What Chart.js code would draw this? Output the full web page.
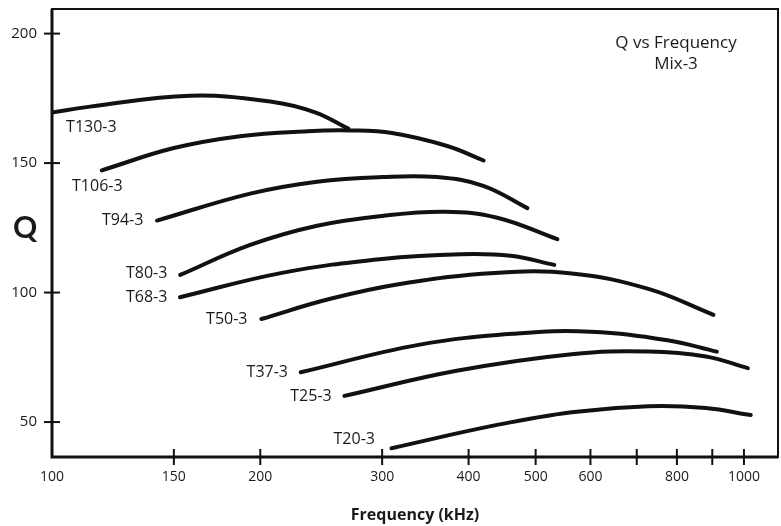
<!DOCTYPE html>
<html>
<head>
<meta charset="utf-8">
<script src="https://cdn.jsdelivr.net/npm/chart.js@4/dist/chart.umd.min.js"></script>
<style>
  html, body { margin: 0; padding: 0; background: #fff; }
  #wrap { width: 781px; height: 526px; }
</style>
</head>
<body>
<div id="wrap"><canvas id="c" width="781" height="526"></canvas></div>
<script>
// Q vs Frequency, Mix-3 toroid cores
const xTicks = [100, 150, 200, 300, 400, 500, 600, 700, 800, 900, 1000];
const xLabelled = [100, 150, 200, 300, 400, 500, 600, 800, 1000];
const yTicks = [50, 100, 150, 200];

const coreNames = ['T130-3', 'T106-3', 'T94-3', 'T80-3', 'T68-3', 'T50-3', 'T37-3', 'T25-3', 'T20-3'];

const t130Freq = [100, 113.5, 158.4, 208.8, 240, 268];
const t130Q    = [169.5, 171.8, 176.0, 173.6, 169.6, 163.3];

const t106Freq = [118, 150, 187, 234, 270, 310, 372.5, 420.5];
const t106Q    = [147.2, 155.8, 160.4, 162.3, 162.6, 161.6, 156.6, 151.0];

const t94Freq = [141.8, 193.4, 241.6, 300, 360, 420, 486.4];
const t94Q    = [127.8, 138.2, 142.8, 144.6, 144.6, 141.2, 132.6];

const t80Freq = [153.2, 193.4, 241.6, 300, 370, 440, 537.5];
const t80Q    = [106.8, 118.4, 125.8, 129.6, 131.2, 128.9, 120.6];

const t68Freq = [153.1, 215, 300, 390, 460, 532];
const t68Q    = [98.2, 107.6, 113.0, 114.8, 114.2, 110.7];

const t50Freq = [200.7, 252.5, 320, 436.3, 563.8, 727.6, 903.6];
const t50Q    = [89.8, 97.6, 103.4, 107.6, 107.4, 101.4, 91.4];

const t37Freq = [228.8, 338.6, 470, 600.5, 775.4, 913.8];
const t37Q    = [69.2, 79.8, 84.2, 84.9, 81.6, 77.2];

const t25Freq = [264.6, 384.4, 563.8, 727.6, 881, 1013];
const t25Q    = [60.1, 69.8, 76.2, 77.2, 75.3, 70.8];

const t20Freq = [309.5, 436.3, 563.8, 727.6, 881, 1023];
const t20Q    = [39.9, 48.7, 53.8, 56.1, 55.4, 52.7];

// where each core name sits (freq, Q of the text's left/middle)
const labelFreq = [104.8, 106.9, 118.1, 127.9, 127.9, 167.0, 191.1, 221.0, 255.2];
const labelQ    = [163.7, 140.9, 127.7, 107.2, 98.3, 89.8, 69.0, 59.7, 43.1];

const seriesFreq = [t130Freq, t106Freq, t94Freq, t80Freq, t68Freq, t50Freq, t37Freq, t25Freq, t20Freq];
const seriesQ = [t130Q, t106Q, t94Q, t80Q, t68Q, t50Q, t37Q, t25Q, t20Q];

const FONT = '"Open Sans", "Liberation Sans", sans-serif';

const datasets = coreNames.map((name, i) => ({
  label: name,
  data: seriesFreq[i].map((f, j) => ({ x: f, y: seriesQ[i][j] })),
  showLine: true,
  borderColor: '#111',
  borderWidth: 4,
  borderCapStyle: 'round',
  pointRadius: 0,
  tension: 0.4,
  fill: false
}));

const decorations = {
  id: 'decorations',
  afterDraw(chart) {
    const { ctx, chartArea: a, scales: { x, y } } = chart;
    ctx.save();
    // frame
    ctx.strokeStyle = '#111';
    ctx.lineWidth = 2;
    ctx.strokeRect(a.left, a.top, a.right - a.left, a.bottom - a.top);
    ctx.lineWidth = 3;
    ctx.beginPath();
    ctx.moveTo(a.left, a.top); ctx.lineTo(a.left, a.bottom); ctx.lineTo(a.right, a.bottom);
    ctx.stroke();
    // crossing tick marks
    ctx.lineWidth = 2;
    xTicks.forEach(v => {
      const px = x.getPixelForValue(v);
      if (v === 100) return;
      ctx.beginPath(); ctx.moveTo(px, a.bottom - 8); ctx.lineTo(px, a.bottom + 8); ctx.stroke();
    });
    yTicks.forEach(v => {
      const py = y.getPixelForValue(v);
      ctx.beginPath(); ctx.moveTo(a.left - 8, py); ctx.lineTo(a.left + 8, py); ctx.stroke();
    });
    // core names
    ctx.fillStyle = '#1a1a1a';
    ctx.font = '16px ' + FONT;
    ctx.textAlign = 'left';
    ctx.textBaseline = 'middle';
    coreNames.forEach((n, i) => {
      ctx.fillText(n, x.getPixelForValue(labelFreq[i]), y.getPixelForValue(labelQ[i]));
    });
    // inset title
    ctx.textAlign = 'center';
    ctx.font = '17px ' + FONT;
    ctx.fillText('Q vs Frequency', 676, 43);
    ctx.fillText('Mix-3', 676, 64);
    // y axis name, upright
    ctx.font = 'bold 30px Lato, "Open Sans", sans-serif';
    ctx.fillText('Q', 25, 228);
    ctx.restore();
  }
};

new Chart(document.getElementById('c'), {
  type: 'scatter',
  data: { datasets },
  plugins: [decorations],
  options: {
    responsive: false,
    animation: false,
    layout: { padding: { top: 9, right: 3, left: 0, bottom: 0 } },
    plugins: { legend: { display: false }, tooltip: { enabled: false } },
    scales: {
      x: {
        type: 'logarithmic',
        min: 100,
        max: 1120,
        afterBuildTicks: s => { s.ticks = xTicks.map(v => ({ value: v })); },
        afterFit: s => { s.height = 69; s.paddingLeft = 0; s.paddingRight = 0; },
        grid: { display: false },
        border: { display: false },
        ticks: {
          padding: 4,
          color: '#1a1a1a',
          font: { family: FONT, size: 14 },
          autoSkip: false,
          maxRotation: 0,
          callback: v => xLabelled.includes(v) ? String(v) : ''
        },
        title: {
          display: true,
          text: 'Frequency (kHz)',
          color: '#1a1a1a',
          font: { family: FONT, size: 16, weight: 'bold' },
          padding: { top: 4, bottom: 1 }
        }
      },
      y: {
        min: 36.5,
        max: 209.5,
        afterBuildTicks: s => { s.ticks = yTicks.map(v => ({ value: v })); },
        afterFit: s => { s.width = 52; s.paddingTop = 0; s.paddingBottom = 0; },
        grid: { display: false },
        border: { display: false },
        ticks: {
          padding: 7,
          color: '#1a1a1a',
          font: { family: FONT, size: 15 }
        }
      }
    }
  }
});
</script>
</body>
</html>
